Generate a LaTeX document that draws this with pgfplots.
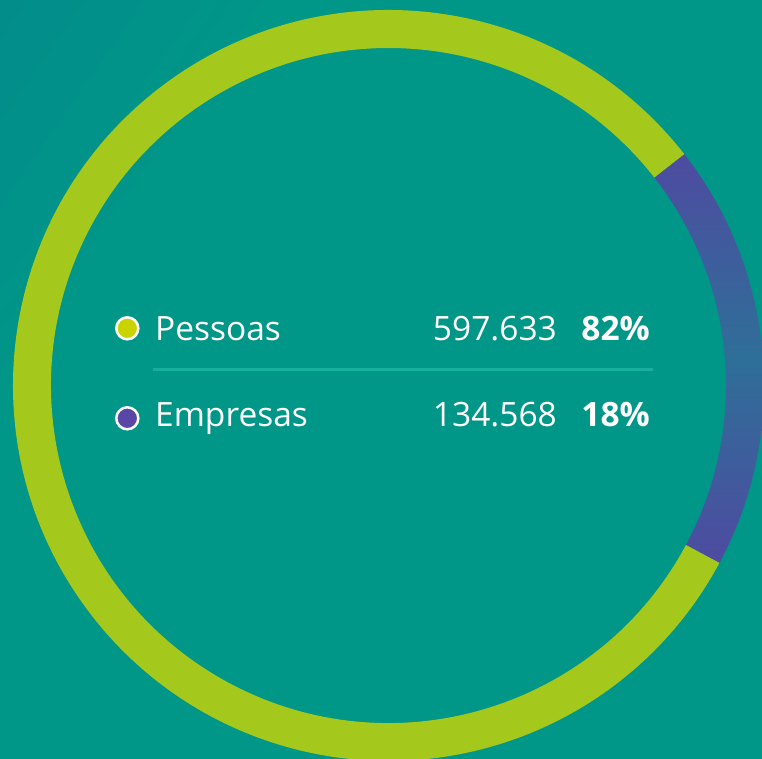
\documentclass[border=0pt]{standalone}
\usepackage{fontspec}
\setmainfont{Open Sans}
\usepackage{pgfplots}
\usepackage{pgfplotstable}
\pgfplotsset{compat=1.18}
\definecolor{bgA}{HTML}{05838F}
\definecolor{bgB}{HTML}{009688}
\definecolor{ringLime}{HTML}{A4C81B}
\definecolor{ringPurp}{HTML}{4E4BA0}
\definecolor{ringBlue}{HTML}{2E6F98}
\definecolor{dotLime}{HTML}{C8D300}
\definecolor{dotPurp}{HTML}{5A47A5}
\definecolor{divider}{HTML}{16AE9C}
\pgfdeclarehorizontalshading{bgshade}{100bp}{color(0bp)=(bgA); color(30bp)=(bgB); color(100bp)=(bgB)}

\pgfplotstableread{
label value
Pessoas 597633
Empresas 134568
}\donutdata

\begin{document}
\begin{tikzpicture}
\pgfplotstablegetelem{0}{value}\of\donutdata \edef\vP{\pgfplotsretval}
\pgfplotstablegetelem{1}{value}\of\donutdata \edef\vE{\pgfplotsretval}
\def\cx{388.5}\def\cy{373.5}\def\ro{375.5}\def\ri{337.5}\def\aS{38}
\edef\aP{\fpeval{\aS+360*\vP/(\vP+\vE)}}
\edef\aE{\fpeval{\aS-360*\vE/(\vP+\vE)}}
\edef\xoS{\fpeval{\cx+\ro*cosd(\aS)}}\edef\yoS{\fpeval{\cy+\ro*sind(\aS)}}
\edef\xiP{\fpeval{\cx+\ri*cosd(\aP)}}\edef\yiP{\fpeval{\cy+\ri*sind(\aP)}}
\edef\xiE{\fpeval{\cx+\ri*cosd(\aE)}}\edef\yiE{\fpeval{\cy+\ri*sind(\aE)}}
\shade[shading=bgshade, shading angle=-35] (0,0) rectangle (762bp,759bp);
\clip (0,0) rectangle (762bp,759bp);
\begin{axis}[
  at={(0,0)}, anchor=south west,
  width=762bp, height=759bp, scale only axis,
  xmin=0, xmax=762, ymin=0, ymax=759,
  hide axis, clip=false,
]
\fill[ringLime] (axis cs:\xoS,\yoS) arc[start angle=\aS, end angle=\aP, radius=\ro bp]
   -- (axis cs:\xiP,\yiP) arc[start angle=\aP, end angle=\aS, radius=\ri bp] -- cycle;
\shade[top color=ringPurp, bottom color=ringPurp, middle color=ringBlue]
   (axis cs:\xoS,\yoS) arc[start angle=\aS, end angle=\aE, radius=\ro bp]
   -- (axis cs:\xiE,\yiE) arc[start angle=\aE, end angle=\aS, radius=\ri bp] -- cycle;
\draw[divider, line width=3bp] (axis cs:153,389) -- (axis cs:653,389);
\addplot[only marks, mark=*, mark size=11bp, mark options={fill=dotLime, draw=white, line width=2.5bp}] coordinates {(127.3,430.7)};
\addplot[only marks, mark=*, mark size=11bp, mark options={fill=dotPurp, draw=white, line width=2.5bp}] coordinates {(127.3,340.7)};
\begin{scope}[every node/.style={inner sep=0pt, text=white, font=\fontsize{33.5bp}{40bp}\selectfont}]
\node[anchor=base west] at (axis cs:155,418.3) {Pessoas};
\node[anchor=base east] at (axis cs:557,418.3) {597.633};
\node[anchor=base east] at (axis cs:650,418.3) {\bfseries 82\%};
\node[anchor=base west] at (axis cs:155,332.3) {Empresas};
\node[anchor=base east] at (axis cs:557,332.3) {134.568};
\node[anchor=base east] at (axis cs:650,332.3) {\bfseries 18\%};
\end{scope}
\end{axis}
\end{tikzpicture}
\end{document}
